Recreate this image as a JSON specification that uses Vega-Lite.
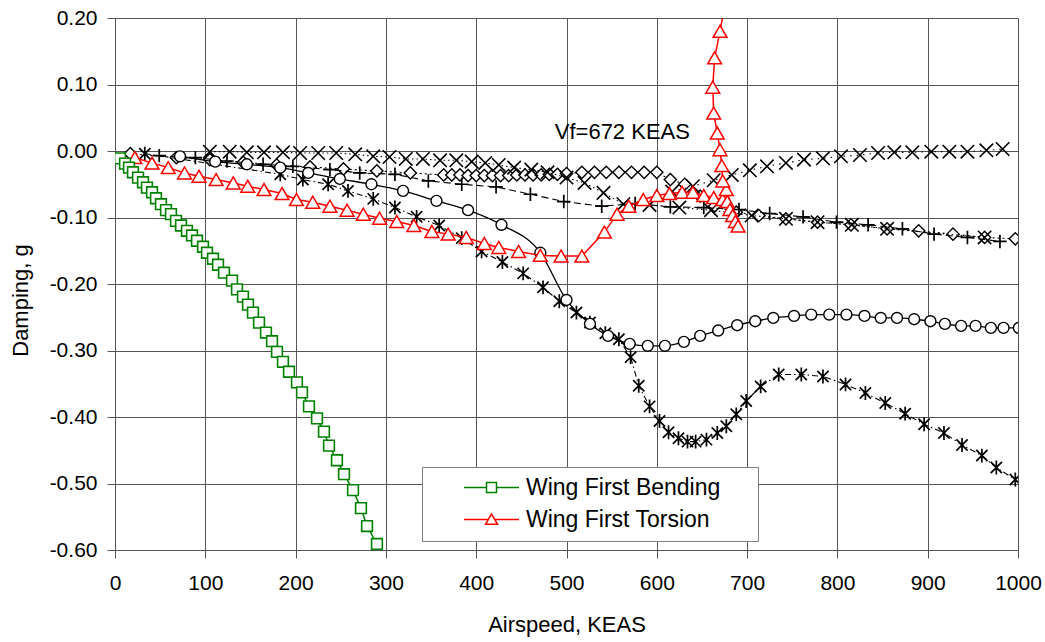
{
"$schema":"https://vega.github.io/schema/vega-lite/v6.json",
"width":903,"height":532,
"autosize":{"type":"none"},
"padding":{"left":115,"top":18,"right":27,"bottom":92},
"background":"#ffffff",
"config":{
 "view":{"stroke":null},
 "font":"Liberation Sans",
 "axis":{"labelFont":"Liberation Sans","titleFont":"Liberation Sans","labelColor":"#000","titleColor":"#000","titleFontWeight":"normal","gridColor":"#555","gridWidth":1,"gridOpacity":1,"domainColor":"#555","tickColor":"#555","tickSize":8,"labelFontSize":21,"titleFontSize":22,"labelFlush":false,"labelOverlap":false}
},
"datasets":{
 "G":[{"x":5.5,"y":-0.011},{"x":11.1,"y":-0.019},{"x":15.5,"y":-0.025},{"x":19.9,"y":-0.032},{"x":25.5,"y":-0.040},{"x":31,"y":-0.047},{"x":35.4,"y":-0.055},{"x":41,"y":-0.062},{"x":45.4,"y":-0.071},{"x":50.9,"y":-0.080},{"x":56.5,"y":-0.089},{"x":62,"y":-0.095},{"x":67.6,"y":-0.105},{"x":73.1,"y":-0.112},{"x":79.7,"y":-0.120},{"x":85.3,"y":-0.127},{"x":90.8,"y":-0.135},{"x":97.5,"y":-0.144},{"x":101.9,"y":-0.153},{"x":108.5,"y":-0.162},{"x":114.1,"y":-0.171},{"x":120.7,"y":-0.183},{"x":129.6,"y":-0.195},{"x":135.1,"y":-0.208},{"x":141.7,"y":-0.219},{"x":147.3,"y":-0.231},{"x":152.8,"y":-0.243},{"x":159.5,"y":-0.258},{"x":167.2,"y":-0.273},{"x":173.9,"y":-0.286},{"x":179.4,"y":-0.302},{"x":186,"y":-0.317},{"x":192.7,"y":-0.332},{"x":201.5,"y":-0.348},{"x":207.1,"y":-0.363},{"x":214.8,"y":-0.384},{"x":223.7,"y":-0.402},{"x":231.4,"y":-0.422},{"x":237,"y":-0.443},{"x":245.8,"y":-0.465},{"x":253.6,"y":-0.486},{"x":263.6,"y":-0.510},{"x":272.4,"y":-0.537},{"x":279.1,"y":-0.564},{"x":290.1,"y":-0.591},{"x":298,"y":-0.618}],
 "R":[{"i":1,"x":22,"y":-0.010},{"i":2,"x":41,"y":-0.018},{"i":3,"x":59,"y":-0.025},{"i":4,"x":77,"y":-0.033},{"i":5,"x":93,"y":-0.038},{"i":6,"x":112,"y":-0.043},{"i":7,"x":131,"y":-0.048},{"i":8,"x":147,"y":-0.053},{"i":9,"x":165,"y":-0.058},{"i":10,"x":185,"y":-0.064},{"i":11,"x":201,"y":-0.073},{"i":12,"x":219,"y":-0.077},{"i":13,"x":238,"y":-0.083},{"i":14,"x":257,"y":-0.089},{"i":15,"x":275,"y":-0.095},{"i":16,"x":293,"y":-0.101},{"i":17,"x":312,"y":-0.106},{"i":18,"x":331,"y":-0.112},{"i":19,"x":351,"y":-0.121},{"i":20,"x":369,"y":-0.125},{"i":21,"x":389,"y":-0.130},{"i":22,"x":409,"y":-0.139},{"i":23,"x":425,"y":-0.145},{"i":24,"x":447,"y":-0.151},{"i":25,"x":471,"y":-0.157},{"i":26,"x":494,"y":-0.158},{"i":27,"x":517,"y":-0.158},{"i":28,"x":542,"y":-0.122},{"i":29,"x":556,"y":-0.095},{"i":30,"x":569,"y":-0.083},{"i":31,"x":585,"y":-0.073},{"i":32,"x":600,"y":-0.067},{"i":33,"x":614,"y":-0.064},{"i":34,"x":628,"y":-0.062},{"i":35,"x":640,"y":-0.062},{"i":36,"x":652,"y":-0.067},{"i":37,"x":663,"y":-0.070},{"i":38,"x":673,"y":-0.073},{"i":39,"x":678,"y":-0.076},{"i":40,"x":681,"y":-0.088},{"i":41,"x":684,"y":-0.097},{"i":42,"x":687,"y":-0.106},{"i":43,"x":690,"y":-0.113},{"i":44,"x":677,"y":-0.058},{"i":45,"x":673,"y":-0.045},{"i":46,"x":672,"y":-0.022},{"i":47,"x":670,"y":0.002},{"i":48,"x":667,"y":0.027},{"i":49,"x":663,"y":0.057},{"i":50,"x":662,"y":0.096},{"i":51,"x":664,"y":0.140},{"i":52,"x":670,"y":0.180},{"i":53,"x":676,"y":0.225}],
 "P":[{"x":49,"y":-0.007},{"x":89,"y":-0.010},{"x":124,"y":-0.015},{"x":164,"y":-0.020},{"x":197,"y":-0.023},{"x":238,"y":-0.028},{"x":271,"y":-0.033},{"x":310,"y":-0.035},{"x":347,"y":-0.045},{"x":384,"y":-0.050},{"x":422,"y":-0.054},{"x":460,"y":-0.065},{"x":497,"y":-0.076},{"x":539,"y":-0.083},{"x":576,"y":-0.079},{"x":615,"y":-0.084},{"x":652,"y":-0.085},{"x":691,"y":-0.088},{"x":725,"y":-0.094},{"x":762,"y":-0.099},{"x":799,"y":-0.107},{"x":834,"y":-0.111},{"x":872,"y":-0.117},{"x":907,"y":-0.125},{"x":944,"y":-0.130},{"x":980,"y":-0.136}],
 "A":[{"x":33,"y":-0.004},{"x":183,"y":-0.035},{"x":208,"y":-0.043},{"x":236,"y":-0.050},{"x":258,"y":-0.060},{"x":286,"y":-0.072},{"x":310,"y":-0.085},{"x":334,"y":-0.099},{"x":359,"y":-0.112},{"x":384,"y":-0.131},{"x":406,"y":-0.151},{"x":429,"y":-0.167},{"x":452,"y":-0.184},{"x":474,"y":-0.205},{"x":492,"y":-0.226},{"x":511,"y":-0.243},{"x":526,"y":-0.258},{"x":543,"y":-0.274},{"x":558,"y":-0.283},{"x":571,"y":-0.310},{"x":580,"y":-0.353},{"x":592,"y":-0.384},{"x":603,"y":-0.406},{"x":613,"y":-0.423},{"x":624,"y":-0.432},{"x":634,"y":-0.437},{"x":643,"y":-0.437},{"x":655,"y":-0.434},{"x":667,"y":-0.424},{"x":677,"y":-0.414},{"x":688,"y":-0.396},{"x":699,"y":-0.376},{"x":715,"y":-0.354},{"x":735,"y":-0.336},{"x":760,"y":-0.336},{"x":784,"y":-0.339},{"x":809,"y":-0.351},{"x":831,"y":-0.364},{"x":853,"y":-0.379},{"x":875,"y":-0.395},{"x":896,"y":-0.411},{"x":918,"y":-0.424},{"x":938,"y":-0.442},{"x":960,"y":-0.458},{"x":976,"y":-0.476},{"x":997,"y":-0.494}],
 "C":[{"x":72,"y":-0.008},{"x":111,"y":-0.016},{"x":146,"y":-0.020},{"x":183,"y":-0.025},{"x":214,"y":-0.033},{"x":249,"y":-0.042},{"x":284,"y":-0.050},{"x":319,"y":-0.060},{"x":356,"y":-0.075},{"x":391,"y":-0.089},{"x":428,"y":-0.111},{"x":471,"y":-0.153},{"x":500,"y":-0.224},{"x":526,"y":-0.260},{"x":546,"y":-0.278},{"x":570,"y":-0.290},{"x":590,"y":-0.293},{"x":609,"y":-0.293},{"x":630,"y":-0.287},{"x":648,"y":-0.278},{"x":668,"y":-0.270},{"x":689,"y":-0.262},{"x":709,"y":-0.256},{"x":729,"y":-0.251},{"x":752,"y":-0.248},{"x":771,"y":-0.246},{"x":791,"y":-0.246},{"x":810,"y":-0.246},{"x":830,"y":-0.248},{"x":848,"y":-0.251},{"x":866,"y":-0.251},{"x":885,"y":-0.253},{"x":903,"y":-0.256},{"x":919,"y":-0.260},{"x":937,"y":-0.263},{"x":953,"y":-0.263},{"x":970,"y":-0.266},{"x":984,"y":-0.266},{"x":1001,"y":-0.266}],
 "X1":[{"x":105,"y":-0.001},{"x":127,"y":-0.001},{"x":146,"y":-0.002},{"x":165,"y":-0.002},{"x":186,"y":-0.002},{"x":205,"y":-0.003},{"x":225,"y":-0.003},{"x":245,"y":-0.003},{"x":266,"y":-0.005},{"x":286,"y":-0.008},{"x":304,"y":-0.009},{"x":322,"y":-0.012},{"x":341,"y":-0.012},{"x":360,"y":-0.014},{"x":378,"y":-0.014},{"x":395,"y":-0.016},{"x":410,"y":-0.018},{"x":425,"y":-0.021},{"x":442,"y":-0.025},{"x":461,"y":-0.028},{"x":479,"y":-0.032},{"x":500,"y":-0.040},{"x":520,"y":-0.048},{"x":541,"y":-0.063},{"x":563,"y":-0.080},{"x":592,"y":-0.081},{"x":625,"y":-0.085},{"x":660,"y":-0.089},{"x":705,"y":-0.097},{"x":743,"y":-0.102},{"x":778,"y":-0.107},{"x":816,"y":-0.111},{"x":855,"y":-0.117},{"x":963,"y":-0.130}],
 "X2":[{"x":617,"y":-0.061},{"x":640,"y":-0.053},{"x":663,"y":-0.044},{"x":683,"y":-0.036},{"x":703,"y":-0.029},{"x":722,"y":-0.023},{"x":743,"y":-0.018},{"x":763,"y":-0.013},{"x":784,"y":-0.011},{"x":804,"y":-0.008},{"x":825,"y":-0.006},{"x":845,"y":-0.003},{"x":863,"y":-0.002},{"x":883,"y":-0.002},{"x":904,"y":-0.001},{"x":924,"y":-0.001},{"x":944,"y":-0.001},{"x":965,"y":0.001},{"x":983,"y":0.003}],
 "D":[{"x":17,"y":-0.004},{"x":68,"y":-0.010},{"x":105,"y":-0.013},{"x":142,"y":-0.017},{"x":179,"y":-0.021},{"x":216,"y":-0.024},{"x":253,"y":-0.027},{"x":290,"y":-0.030},{"x":327,"y":-0.033},{"x":364,"y":-0.036},{"x":373,"y":-0.036},{"x":382,"y":-0.036},{"x":391,"y":-0.037},{"x":400,"y":-0.037},{"x":409,"y":-0.037},{"x":418,"y":-0.037},{"x":427,"y":-0.037},{"x":436,"y":-0.037},{"x":445,"y":-0.036},{"x":454,"y":-0.036},{"x":463,"y":-0.036},{"x":472,"y":-0.036},{"x":481,"y":-0.035},{"x":490,"y":-0.035},{"x":500,"y":-0.034},{"x":517,"y":-0.032},{"x":531,"y":-0.032},{"x":544,"y":-0.032},{"x":558,"y":-0.032},{"x":572,"y":-0.032},{"x":586,"y":-0.032},{"x":600,"y":-0.032},{"x":615,"y":-0.043},{"x":631,"y":-0.050},{"x":648,"y":-0.068},{"x":664,"y":-0.083},{"x":688,"y":-0.092},{"x":713,"y":-0.097},{"x":743,"y":-0.102},{"x":778,"y":-0.107},{"x":815,"y":-0.111},{"x":855,"y":-0.117},{"x":890,"y":-0.120},{"x":928,"y":-0.125},{"x":963,"y":-0.130},{"x":997,"y":-0.132}],
 "lab":[{"x":487,"y":0.029,"t":"Vf=672 KEAS"}],
 "leg":[{"name":"Wing First Bending"},{"name":"Wing First Torsion"}]
},
"encoding":{
 "x":{"field":"x","type":"quantitative","scale":{"domain":[0,1000],"nice":false,"zero":false},"axis":{"values":[0,100,200,300,400,500,600,700,800,900,1000],"format":"d","title":"Airspeed, KEAS","labelPadding":14,"titleY":74,"titleBaseline":"middle"}},
 "y":{"field":"y","type":"quantitative","scale":{"domain":[-0.6,0.2],"nice":false,"zero":false},"axis":{"values":[-0.6,-0.5,-0.4,-0.3,-0.2,-0.1,0,0.1,0.2],"title":"Damping, g","labelPadding":10,"labelExpr":"replace(format(datum.value,'.2f'),'\u2212','-')","titleX":-95,"titleY":282,"titleAngle":-90,"titleBaseline":"middle","titleAlign":"center"}}
},
"layer":[
 {"data":{"name":"D"},"layer":[
  {"mark":{"type":"line","color":"#000","strokeWidth":1.1,"strokeDash":[2,3],"clip":true},"encoding":{}},
  {"mark":{"type":"point","shape":"diamond","size":150,"filled":true,"fill":"#fff","stroke":"#000","strokeWidth":1.4,"opacity":1,"clip":true}}
 ]},
 {"data":{"name":"X1"},"layer":[
  {"mark":{"type":"line","color":"#000","strokeWidth":1.1,"strokeDash":[1.5,3],"clip":true},"encoding":{}},
  {"mark":{"type":"point","shape":"M-1,-1L1,1M-1,1L1,-1","size":180,"filled":false,"stroke":"#000","strokeWidth":1.6,"opacity":1,"clip":true}}
 ]},
 {"data":{"name":"X2"},"layer":[
  {"mark":{"type":"line","color":"#000","strokeWidth":1.1,"strokeDash":[1.5,5],"clip":true},"encoding":{}},
  {"mark":{"type":"point","shape":"M-1,-1L1,1M-1,1L1,-1","size":180,"filled":false,"stroke":"#000","strokeWidth":1.6,"opacity":1,"clip":true}}
 ]},
 {"data":{"name":"P"},"layer":[
  {"mark":{"type":"line","color":"#000","strokeWidth":1.1,"strokeDash":[7,4],"clip":true},"encoding":{}},
  {"mark":{"type":"point","shape":"M-1,0L1,0M0,-1L0,1","size":180,"filled":false,"stroke":"#000","strokeWidth":1.7,"opacity":1,"clip":true}}
 ]},
 {"data":{"name":"A"},"layer":[
  {"mark":{"type":"line","color":"#000","strokeWidth":1.1,"strokeDash":[6,3,1.5,3],"clip":true},"encoding":{}},
  {"mark":{"type":"point","shape":"M-0.85,-0.85L0.85,0.85M-0.85,0.85L0.85,-0.85M0,-1.05L0,1.05","size":175,"filled":false,"stroke":"#000","strokeWidth":1.7,"opacity":1,"clip":true}}
 ]},
 {"data":{"name":"C"},"layer":[
  {"mark":{"type":"line","color":"#000","strokeWidth":1.3,"interpolate":"monotone","clip":true},"encoding":{}},
  {"mark":{"type":"point","shape":"circle","size":120,"filled":true,"fill":"#fff","stroke":"#000","strokeWidth":1.4,"opacity":1,"clip":true}}
 ]},
 {"data":{"name":"R"},"layer":[
  {"mark":{"type":"line","color":"#ff0000","strokeWidth":1.5,"clip":true},"encoding":{"order":{"field":"i","type":"quantitative"}}},
  {"mark":{"type":"point","shape":"triangle-up","size":190,"filled":true,"fill":"#fff","stroke":"#ff0000","strokeWidth":1.5,"opacity":1,"clip":true}}
 ]},
 {"data":{"name":"G"},"layer":[
  {"mark":{"type":"line","color":"#008000","strokeWidth":1.5,"clip":true},"encoding":{}},
  {"mark":{"type":"point","shape":"square","size":115,"filled":true,"fill":"#fff","stroke":"#008000","strokeWidth":1.6,"opacity":1,"clip":true}}
 ]},
 {"data":{"name":"lab"},"mark":{"type":"text","align":"left","baseline":"middle","fontSize":22,"font":"Liberation Sans","color":"#000"},"encoding":{"text":{"field":"t","type":"nominal"}}},
 {"data":{"name":"leg"},"mark":{"type":"point","opacity":0,"size":100,"filled":false,"strokeWidth":1.5},
  "encoding":{
   "shape":{"field":"name","type":"nominal","scale":{"domain":["Wing First Bending","Wing First Torsion"],"range":["M-5.5,0L-1,0M1,0L5.5,0M-1,-1L1,-1L1,1L-1,1Z","M-5.5,0L-0.65,0M0.65,0L5.5,0M0,-1.1L1.2,0.95L-1.2,0.95Z"]},
     "legend":{"orient":"none","legendX":307,"legendY":449,"title":" ","titleOrient":"right","titlePadding":29,"titleFontSize":22,"symbolSize":100,"symbolStrokeWidth":1.5,"symbolOffset":49,"labelOffset":23,"labelFontSize":23,"labelFont":"Liberation Sans","labelColor":"#000","strokeColor":"#808080","fillColor":"#fff","padding":9,"rowPadding":8,"labelLimit":400,"symbolOpacity":1}},
   "color":{"field":"name","type":"nominal","scale":{"domain":["Wing First Bending","Wing First Torsion"],"range":["#008000","#ff0000"]},
     "legend":{"orient":"none","legendX":307,"legendY":449,"title":" ","titleOrient":"right","titlePadding":29,"titleFontSize":22,"symbolSize":100,"symbolStrokeWidth":1.5,"symbolOffset":49,"labelOffset":23,"labelFontSize":23,"labelFont":"Liberation Sans","labelColor":"#000","strokeColor":"#808080","fillColor":"#fff","padding":9,"rowPadding":8,"labelLimit":400,"symbolOpacity":1}}
  }}
]
}
